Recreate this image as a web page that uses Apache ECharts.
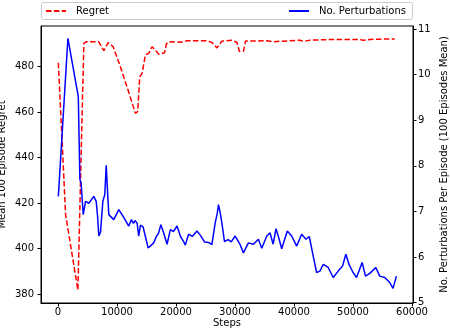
<!DOCTYPE html>
<html>
<head>
<meta charset="utf-8">
<script src="https://cdn.jsdelivr.net/npm/echarts@6/dist/echarts.min.js"></script>
<style>html,body{margin:0;padding:0;background:#fff}#c{width:450px;height:336px}</style>
</head>
<body>
<div id="c"></div>
<script>
const xTicks = [0, 10000, 20000, 30000, 40000, 50000, 60000];
const leftTicks = [380, 400, 420, 440, 460, 480];
const rightTicks = [5, 6, 7, 8, 9, 10, 11];

const regretData = [
  [70,481.6],[1300,415],[3380,381.9],[4390,490.1],[4850,490.8],[6930,490.8],[7390,488.5],[7780,486.9],
  [8520,490.4],[9360,488.6],[10480,480.6],[11880,469.6],[13130,459.4],[13520,460.2],[13860,475.4],[14260,476.9],
  [14820,485],[15380,485.7],[15950,488.6],[16510,487.1],[17070,485.3],[18080,486.0],[18370,489.8],[18760,490.8],
  [20740,490.6],[21870,491.2],[25250,491.2],[26090,490.5],[26940,488.1],[27780,491.0],[29470,491.4],[30320,490.6],
  [30760,486.5],[31430,486.6],[31800,491.1],[35390,491.2],[36500,490.8],[41020,491.5],[41570,490.9],[42710,491.5],
  [46640,491.8],[51150,491.8],[51710,491.4],[53400,491.9],[57070,492.0]
];

const perturbData = [
  [70,7.33],[1690,10.80],[3450,9.52],[3720,7.70],[3920,7.63],[4120,7.60],[4290,6.93],[4680,7.22],[5240,7.18],
  [5530,7.22],[6080,7.33],[6490,7.22],[6710,6.90],[6930,6.46],[7220,6.55],[7610,7.22],[7940,7.37],[8180,8.01],
  [8450,7.33],[8620,6.93],[9460,6.82],[10310,7.04],[11100,6.88],[12000,6.68],[12450,6.82],[12790,6.74],[13050,6.80],
  [13420,6.74],[13690,6.46],[13980,6.70],[14430,6.66],[14820,6.45],[15280,6.20],[15670,6.24],[16220,6.31],[16680,6.45],
  [17070,6.53],[17440,6.71],[17910,6.53],[18490,6.28],[19050,6.60],[19600,6.56],[20180,6.68],[20740,6.46],[21250,6.35],
  [21580,6.26],[22140,6.50],[22760,6.45],[23560,6.57],[24120,6.48],[24840,6.33],[25520,6.32],[26090,6.27],[26650,6.75],
  [26990,6.95],[27210,7.15],[27500,6.97],[27780,6.75],[28220,6.34],[28850,6.38],[29360,6.33],[30030,6.46],[30880,6.27],
  [31430,6.09],[32280,6.31],[33120,6.28],[33970,6.39],[34540,6.19],[35390,6.46],[35950,6.53],[36460,6.28],[36960,6.62],
  [37470,6.40],[37920,6.18],[38870,6.57],[39610,6.46],[40460,6.24],[41300,6.50],[42030,6.39],[42590,6.45],[43260,6.02],
  [43840,5.66],[44400,5.69],[44960,5.84],[45800,5.77],[46640,5.55],[47490,5.69],[48230,5.80],[48790,6.06],[49380,5.82],
  [50020,5.66],[50600,5.55],[51550,5.88],[52120,5.58],[52850,5.64],[53860,5.77],[54540,5.58],[55380,5.55],[56230,5.44],
  [56780,5.31],[57360,5.58]
];

const FONT = 'DejaVu Sans';
const chart = echarts.init(document.getElementById('c'), null, {renderer: 'canvas'});
const legendText = {fontFamily: FONT, fontSize: 10, color: '#000', padding: [0,0,0,5]};
chart.setOption({
  animation: false,
  textStyle: {fontFamily: FONT},
  grid: {left: 41, right: 37, top: 26, bottom: 33, show: true, borderColor: '#000', borderWidth: 1,
         backgroundColor: 'transparent', outerBoundsMode: 'none', containLabel: false},
  graphic: [{
    type: 'rect', shape: {x: 41.5, y: 2.5, width: 371, height: 17, r: 2},
    style: {fill: '#fff', stroke: '#cccccc', lineWidth: 1}, z: -1
  }],
  legend: [
    {data: ['Regret'], left: 45, top: 6, padding: 0, itemWidth: 20, itemHeight: 10,
     itemStyle: {opacity: 0}, textStyle: legendText},
    {data: ['No. Perturbations'], left: 288, top: 6, padding: 0, itemWidth: 20, itemHeight: 10,
     itemStyle: {opacity: 0}, textStyle: legendText}
  ],
  xAxis: {
    type: 'value', min: -2870, max: 60170,
    name: 'Steps', nameLocation: 'middle', nameGap: 15, nameMoveOverlap: false,
    nameTextStyle: {fontFamily: FONT, fontSize: 10, color: '#000'},
    axisLine: {show: true, onZero: false, lineStyle: {color: '#000'}},
    axisTick: {show: true, length: 3.5, customValues: xTicks, lineStyle: {color: '#000'}},
    axisLabel: {customValues: xTicks, margin: 4, fontFamily: FONT, fontSize: 10, color: '#000', formatter: v => String(v)},
    splitLine: {show: false}
  },
  yAxis: [{
    type: 'value', min: 376.2, max: 497.7, position: 'left',
    name: 'Mean 100 Episode Regret', nameLocation: 'middle', nameGap: 34, nameMoveOverlap: false,
    nameTextStyle: {fontFamily: FONT, fontSize: 10, color: '#000'},
    axisLine: {show: true, onZero: false, lineStyle: {color: '#000'}},
    axisTick: {show: true, length: 3.5, customValues: leftTicks, lineStyle: {color: '#000'}},
    axisLabel: {customValues: leftTicks, margin: 7, fontFamily: FONT, fontSize: 10, color: '#000', formatter: v => String(v)},
    splitLine: {show: false}
  }, {
    type: 'value', min: 4.99, max: 11.07, position: 'right',
    name: 'No. Perturbations Per Episode (100 Episodes Mean)', nameLocation: 'middle', nameGap: 26,
    nameRotate: 90, nameMoveOverlap: false,
    nameTextStyle: {fontFamily: FONT, fontSize: 10, color: '#000'},
    axisLine: {show: true, onZero: false, lineStyle: {color: '#000'}},
    axisTick: {show: true, length: 3.5, customValues: rightTicks, lineStyle: {color: '#000'}},
    axisLabel: {customValues: rightTicks, margin: 5, fontFamily: FONT, fontSize: 10, color: '#000', formatter: v => String(v)},
    splitLine: {show: false}
  }],
  series: [{
    name: 'Regret', type: 'line', yAxisIndex: 0, data: regretData, symbol: 'none',
    lineStyle: {color: '#ff0000', width: 1.5, type: [5.5, 2.4]}, itemStyle: {color: '#ff0000'}
  }, {
    name: 'No. Perturbations', type: 'line', yAxisIndex: 1, data: perturbData, symbol: 'none',
    lineStyle: {color: '#0000ff', width: 1.5}, itemStyle: {color: '#0000ff'}
  }]
});
</script>
</body>
</html>
